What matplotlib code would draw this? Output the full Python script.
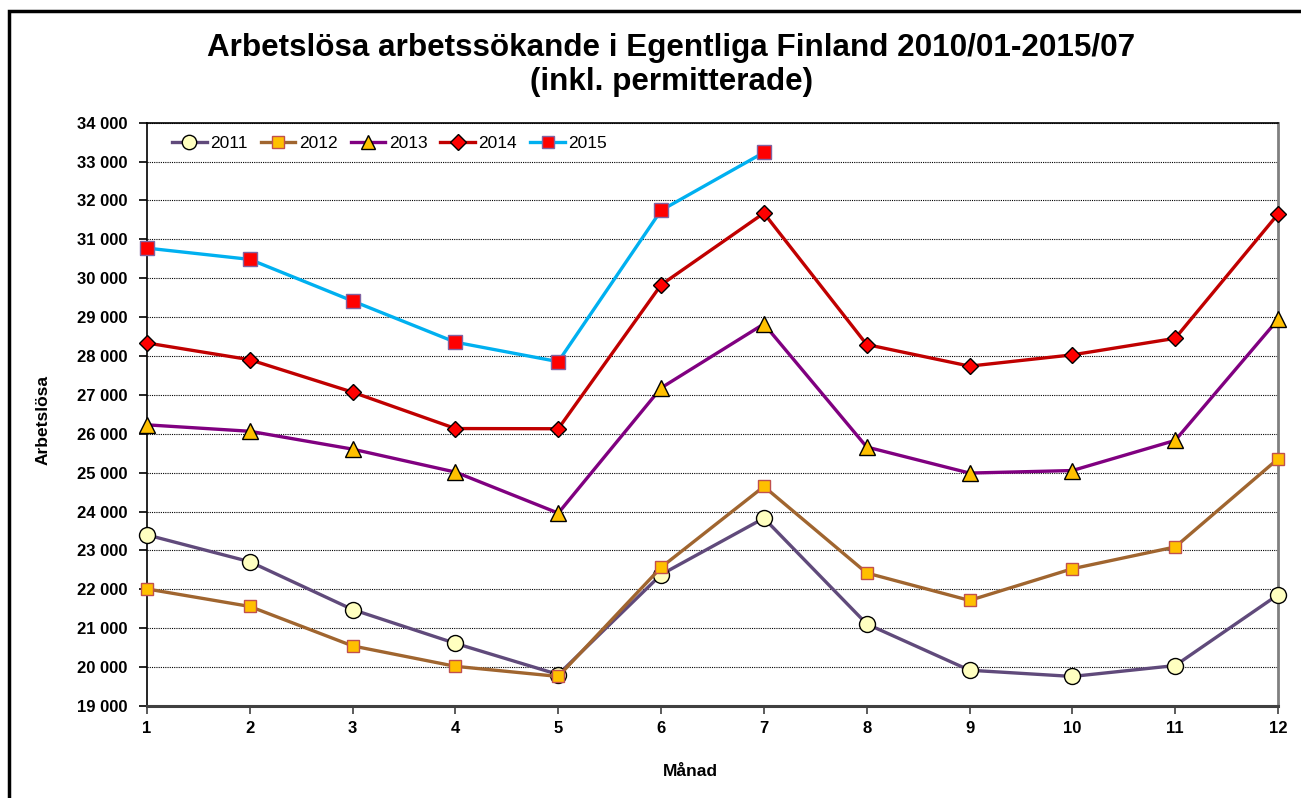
import matplotlib.pyplot as plt
from matplotlib.patches import Rectangle
from matplotlib.ticker import FuncFormatter

plt.rcParams['font.family'] = ['Liberation Sans', 'DejaVu Sans']

# Data
months = [1, 2, 3, 4, 5, 6, 7, 8, 9, 10, 11, 12]
y2011 = [23400, 22710, 21480, 20610, 19810, 22380, 23830, 21110, 19920, 19760, 20040, 21860]
y2012 = [22010, 21560, 20545, 20020, 19760, 22565, 24645, 22420, 21715, 22530, 23090, 25355]
y2013 = [26230, 26065, 25605, 25015, 23960, 27180, 28825, 25660, 24990, 25055, 25830, 28940]
y2014 = [28335, 27905, 27070, 26135, 26130, 29830, 31675, 28295, 27740, 28030, 28455, 31650]
months_2015 = [1, 2, 3, 4, 5, 6, 7]
y2015 = [30775, 30485, 29415, 28355, 27855, 31745, 33235]

fig = plt.figure(figsize=(13.01, 7.98), dpi=100)
ax = fig.add_axes([147 / 1301, 1 - 706 / 798, (1278 - 147) / 1301, (706 - 122.7) / 798])

# Outer chart border
fig.patches.append(Rectangle((9 / 1301, -0.05), 1.1, 1 - 11 / 798 + 0.05, transform=fig.transFigure,
                             fill=False, edgecolor='black', linewidth=2.5, zorder=10))

lw = 2.4
ax.plot(months, y2011, color='#604A7B', lw=lw, marker='o', ms=11.5,
        mfc='#FFFFC0', mec='black', mew=1.0, label='2011', zorder=3, clip_on=False)
ax.plot(months, y2012, color='#A0652F', lw=lw, marker='s', ms=9,
        mfc='#FFC000', mec='#C0504D', mew=1.0, label='2012', zorder=3, clip_on=False)
ax.plot(months, y2013, color='#800080', lw=lw, marker='^', ms=11,
        mfc='#FFC000', mec='black', mew=1.0, label='2013', zorder=3, clip_on=False)
ax.plot(months, y2014, color='#C00000', lw=lw, marker='D', ms=8.5,
        mfc='#FF0000', mec='black', mew=1.0, label='2014', zorder=3, clip_on=False)
ax.plot(months_2015, y2015, color='#00B0F0', lw=lw, marker='s', ms=9.5,
        mfc='#FF0000', mec='#8064A2', mew=1.0, label='2015', zorder=3, clip_on=False)

ax.set_xlim(1, 12)
ax.set_ylim(19000, 34000)
ax.set_xticks(months)
ax.set_yticks(range(19000, 34001, 1000))
ax.yaxis.set_major_formatter(FuncFormatter(lambda v, p: f'{int(v):,}'.replace(',', ' ')))

ax.grid(True, axis='y', color='black', linestyle=(0, (1, 1)), linewidth=0.8)
ax.set_axisbelow(True)

for t in ax.get_xticklabels() + ax.get_yticklabels():
    t.set_fontweight('bold')
ax.tick_params(axis='both', labelsize=12, direction='out', length=6, width=1.2)
ax.tick_params(axis='x', pad=5, colors='#404040', labelcolor='black')
ax.tick_params(axis='y', pad=8)

ax.spines['left'].set_color('black')
ax.spines['left'].set_linewidth(1.2)
ax.spines['top'].set_color('black')
ax.spines['top'].set_linewidth(1.2)
ax.spines['right'].set_color('#808080')
ax.spines['right'].set_linewidth(2)
ax.spines['bottom'].set_color('#404040')
ax.spines['bottom'].set_linewidth(2.2)

ax.set_xlabel('Månad', fontsize=12.5, fontweight='bold')
ax.xaxis.set_label_coords((690 - 147) / (1278 - 147), -(772 - 706) / (706 - 122.7))
ax.xaxis.label.set_va('center')
ax.set_ylabel('Arbetslösa', fontsize=12.5, fontweight='bold')
ax.yaxis.set_label_coords(-(147 - 43) / (1278 - 147), (706 - 420) / (706 - 122.7))
ax.yaxis.label.set_va('center')

ax.legend(loc='center left', ncol=5, frameon=False, fontsize=12.5, handlelength=2.0,
          handletextpad=0.2, columnspacing=0.75, borderaxespad=0.0, markerscale=0.9,
          bbox_to_anchor=((165 - 147) / (1278 - 147), (706 - 143) / (706 - 122.7)))

fig.text(0.516, 1 - 65 / 798, 'Arbetslösa arbetssökande i Egentliga Finland 2010/01-2015/07\n(inkl. permitterade)',
         ha='center', va='center', fontsize=22.6, fontweight='bold', linespacing=1.2)

fig.savefig('out.png', dpi=100)
